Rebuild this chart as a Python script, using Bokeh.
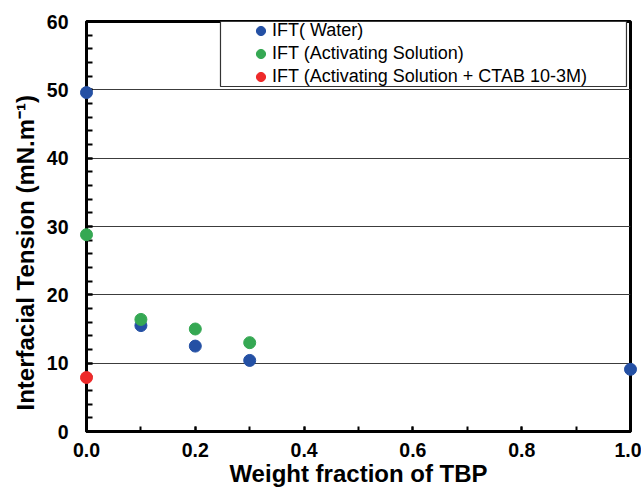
from bokeh.plotting import figure
from bokeh.models import (Range1d, SingleIntervalTicker, Legend, LegendItem,
                          BoxAnnotation, Title, NumeralTickFormatter)
from bokeh.embed import file_html
from bokeh.resources import INLINE

# ---- data ----
water_x = [0.0, 0.1, 0.2, 0.3, 1.0]
water_y = [49.6, 15.5, 12.5, 10.4, 9.1]
act_x = [0.0, 0.1, 0.2, 0.3]
act_y = [28.8, 16.4, 15.0, 13.0]
ctab_x = [0.0]
ctab_y = [7.9]
series_labels = ["IFT( Water)", "IFT (Activating Solution)",
                 "IFT (Activating Solution + CTAB 10-3M)"]
series_colors = ["#2450a4", "#35a853", "#ee2a2a"]
x_title = "Weight fraction of TBP"
y_title = "Interfacial Tension (mN.m\u207b\u00b9)"

FONT = "Liberation Sans"

p = figure(width=641, height=491, x_range=Range1d(0, 1), y_range=Range1d(0, 60),
           output_backend="svg", toolbar_location=None, title=None,
           min_border_left=86, min_border_right=11, min_border_top=21,
           min_border_bottom=60, background_fill_color="white",
           border_fill_color="white")

p.outline_line_color = "black"
p.outline_line_width = 3

p.xaxis.ticker = SingleIntervalTicker(interval=0.2, num_minor_ticks=2)
p.yaxis.ticker = SingleIntervalTicker(interval=10, num_minor_ticks=5)
p.xaxis.formatter = NumeralTickFormatter(format="0.0")

for ax in (p.xaxis, p.yaxis):
    ax.axis_line_width = 3
    ax.axis_line_color = "black"
    ax.major_tick_out = 0
    ax.minor_tick_out = 0
    ax.major_tick_line_width = 2
    ax.minor_tick_line_width = 2
    ax.major_tick_line_color = "black"
    ax.minor_tick_line_color = "black"
    ax.major_label_text_font = FONT
    ax.major_label_text_font_style = "bold"
    ax.major_label_text_font_size = "19.5px"
    ax.major_label_text_color = "black"
p.xaxis.major_tick_in = 5
p.xaxis.minor_tick_in = 5
p.yaxis.major_tick_in = 6
p.yaxis.minor_tick_in = 6
p.xaxis.major_label_standoff = 11
p.yaxis.major_label_standoff = 18

p.xaxis.axis_label = x_title
p.xaxis.axis_label_standoff = 0
p.xaxis.axis_label_text_font = FONT
p.xaxis.axis_label_text_font_style = "bold"
p.xaxis.axis_label_text_font_size = "24px"
p.xaxis.axis_label_text_color = "black"

p.add_layout(Title(text=y_title, align="left", offset=21, standoff=10,
                   text_font=FONT, text_font_style="bold",
                   text_font_size="24px", text_color="black"), "left")

p.xgrid.visible = False
p.ygrid.grid_line_color = "#3c3c3c"
p.ygrid.grid_line_width = 1

# legend frame
box = BoxAnnotation(left=0.2463, right=0.9926, top=60, bottom=50.49,
                    fill_color="white", fill_alpha=1.0,
                    line_color="#333333", line_width=1.2, line_alpha=1.0)
p.add_layout(box)

renderers = []
for xs, ys, c in ((water_x, water_y, series_colors[0]),
                  (act_x, act_y, series_colors[1]),
                  (ctab_x, ctab_y, series_colors[2])):
    r = p.scatter(xs, ys, size=12, marker="circle", fill_color=c, line_color=c,
                  level="overlay")
    renderers.append(r)

legend = Legend(items=[LegendItem(label=lab, renderers=[r])
                       for lab, r in zip(series_labels, renderers)],
                location=(163, 343), padding=0, margin=0, spacing=0,
                glyph_width=23, glyph_height=23, label_height=23,
                label_standoff=0, border_line_color=None,
                background_fill_alpha=0, label_text_font=FONT,
                label_text_font_size="18px", label_text_color="black")
p.add_layout(legend)

open("out.html", "w").write(file_html(p, INLINE))
